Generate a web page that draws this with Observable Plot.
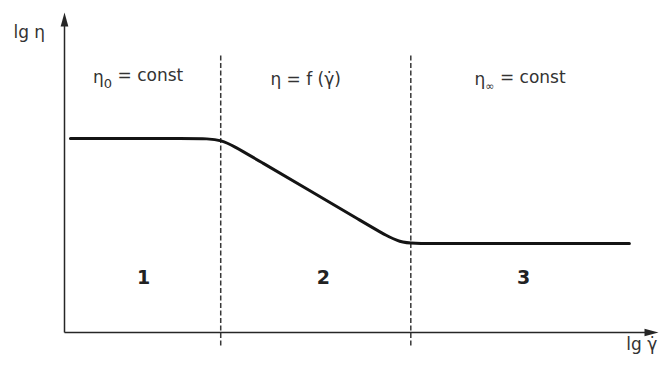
<!DOCTYPE html>
<html>
<head>
<meta charset="utf-8">
<script src="https://cdn.jsdelivr.net/npm/d3@7"></script>
<script src="https://cdn.jsdelivr.net/npm/@observablehq/plot@0.6"></script>
<style>
  html, body { margin: 0; padding: 0; background: #fff; }
  #chart svg { display: block; }
</style>
</head>
<body>
<div id="chart"></div>
<script>
// Flow curve of a pseudoplastic fluid: lg η against lg γ̇ (arbitrary log units).
// Control points of the curve: two plateaus joined by a straight descent,
// with the corners rounded by a B-spline.
const curveX = [0.10, 2.22, 2.64, 3.04, 5.24, 5.64, 6.06, 9.51];
const curveY = [6.06, 6.06, 6.06, 5.62, 3.22, 2.78, 2.78, 2.78];

// Borders between the three flow regimes
const boundaryX = [2.63, 5.83];
const boundaryTop = 8.66;
const boundaryBottom = -0.41;

// Regime formulas (base, subscript, remainder)
const formulaBase = ["η", "η = f (γ̇)", "η"];
const formulaSub = ["0", "", "∞"];
const formulaTail = [" = const", "", " = const"];
const formulaX = [1.24, 4.06, 7.67];
const formulaY = [7.80, 7.72, 7.72];

// Regime numbers
const regimeNames = ["1", "2", "3"];
const regimeX = [1.33, 4.36, 7.73];
const regimeY = [1.53, 1.53, 1.53];

// Axis titles
const yTitle = "lg η";
const xTitle = "lg γ̇";

const curve = curveX.map((x, i) => ({x, y: curveY[i]}));
const formulas = formulaBase.map((b, i) => ({text: b + formulaSub[i] + formulaTail[i], x: formulaX[i], y: formulaY[i]}));
const regimes = regimeNames.map((t, i) => ({text: t, x: regimeX[i], y: regimeY[i]}));

// Slim filled arrowhead; the dot position is the tip
const arrowHead = {
  draw(context, size) {
    const r = Math.sqrt(size / Math.PI);
    context.moveTo(0, 0);
    context.lineTo(r * 0.55, r * 2);
    context.lineTo(-r * 0.55, r * 2);
    context.closePath();
  }
};

const ink = "#262626";
const font = "DejaVu Sans, Noto Sans, sans-serif";

const plot = Plot.plot({
  width: 659,
  height: 373,
  margin: 0,
  style: {background: "#fff", fontFamily: font},
  x: {domain: [0, 10], range: [64, 658], axis: null},
  y: {domain: [0, 10], range: [332, 12], axis: null},
  marks: [
    // axes
    Plot.link([{x1: 0, y1: 0, x2: 0, y2: 9.6}], {x1: "x1", y1: "y1", x2: "x2", y2: "y2", stroke: ink, strokeWidth: 1.5}),
    Plot.link([{x1: 0, y1: 0, x2: 9.8, y2: 0}], {x1: "x1", y1: "y1", x2: "x2", y2: "y2", stroke: ink, strokeWidth: 1.5}),
    Plot.dot([{x: 0, y: 10}], {x: "x", y: "y", symbol: arrowHead, r: 7, fill: ink, stroke: "none"}),
    Plot.dot([{x: 10, y: 0}], {x: "x", y: "y", symbol: arrowHead, r: 7, fill: ink, stroke: "none", rotate: 90}),
    // regime borders
    Plot.link(boundaryX, {x1: d => d, x2: d => d, y1: () => boundaryTop, y2: () => boundaryBottom,
      stroke: "#383838", strokeWidth: 1.5, strokeDasharray: "5,2.5"}),
    // flow curve
    Plot.line(curve, {x: "x", y: "y", curve: "basis", stroke: "#141414", strokeWidth: 3}),
    // formulas
    Plot.text(formulas, {x: "x", y: "y", text: "text", textAnchor: "middle", lineAnchor: "bottom",
      fontSize: 17, fill: "#333"}),
    // regime numbers
    Plot.text(regimes, {x: "x", y: "y", text: "text", textAnchor: "middle", lineAnchor: "bottom",
      fontSize: 19, fontWeight: "bold", fill: "#222"}),
    // axis titles
    Plot.text([yTitle], {x: () => -0.86, y: () => 9.19, text: d => d, textAnchor: "start", lineAnchor: "bottom",
      fontSize: 17, fill: "#333"}),
    Plot.text([xTitle], {x: () => 9.98, y: () => -0.56, text: d => d, textAnchor: "end", lineAnchor: "bottom",
      fontSize: 17, fill: "#333"})
  ]
});

// Set the subscripts of the formulas as lowered, smaller tspans
d3.select(plot).selectAll("text").each(function() {
  const t = d3.select(this);
  const content = this.textContent;
  const i = formulas.findIndex(f => f.text === content);
  if (i < 0 || !formulaSub[i]) return;
  t.text(null);
  t.append("tspan").text(formulaBase[i]);
  t.append("tspan").attr("font-size", formulaSub[i] === "0" ? 13 : 11).attr("dy", "0.4em").text(formulaSub[i]);
  t.append("tspan").attr("dy", "-0.4em").text(formulaTail[i]);
});

document.getElementById("chart").appendChild(plot);
</script>
</body>
</html>
